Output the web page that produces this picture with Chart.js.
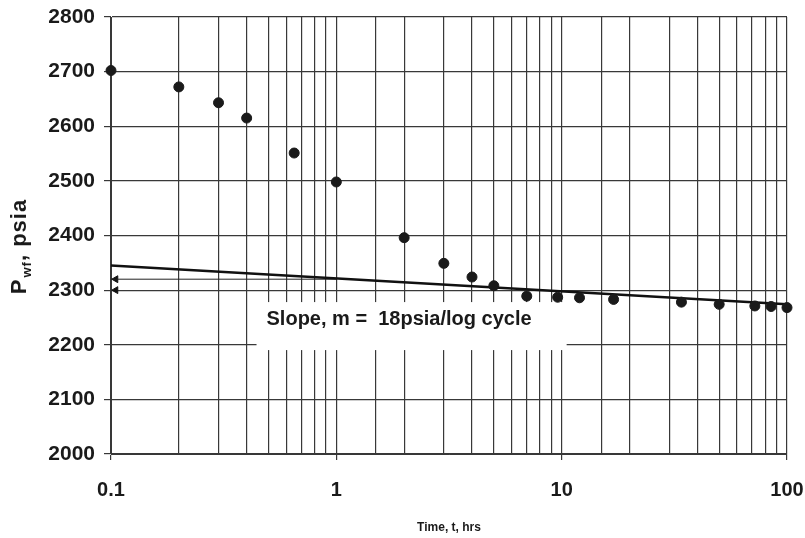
<!DOCTYPE html>
<html>
<head>
<meta charset="utf-8">
<script src="https://cdn.jsdelivr.net/npm/chart.js@4.4.1/dist/chart.umd.min.js"></script>
<style>
  html, body { margin: 0; padding: 0; background: #fff; }
  #wrap { width: 805px; height: 538px; }
</style>
</head>
<body>
<div id="wrap"><canvas id="c" width="805" height="538"></canvas></div>
<script>
	// ******************************************************** DATA
	var timeHrs  = [0.1, 0.2, 0.3, 0.4, 0.65, 1, 2, 3, 4, 5, 7, 9.6, 12, 17, 34, 50, 72, 85, 100];
	var pwfPsia  = [2702, 2672, 2643, 2615, 2551, 2498, 2396, 2349, 2324, 2308, 2289, 2287, 2286, 2283, 2278, 2274, 2271, 2270, 2268];
	var lineTime = [0.1, 100];
	var linePsia = [2345, 2274];
	var p1hrTime = [0.1, 1];
	var p1hrPsia = [2320, 2320];
	var arrowTime = [0.105, 0.105];
	var arrowPsia = [2320, 2300];
	var yTicks   = [2000, 2100, 2200, 2300, 2400, 2500, 2600, 2700, 2800];
	var xTicks   = [0.1, 1, 10, 100];
	var slopeText = "Slope, m =  18psia/log cycle";

	function pts(xs, ys) {
		var out = [];
		for (var i = 0; i < xs.length; i++) out.push({ x: xs[i], y: ys[i] });
		return out;
	}
	function isDecade(v) {
		var l = Math.log10(v);
		return Math.abs(l - Math.round(l)) < 1e-6;
	}

	var FONT = "'Liberation Sans', Arial, sans-serif";
	var GRID = '#383838';

	// ******************************************************** PLUGIN (titles + slope label)
	var extras = {
		id: 'extras',
		beforeDatasetsDraw: function (chart) {
			var ctx = chart.ctx, xs = chart.scales.x, ys = chart.scales.y;
			// slope label on white box
			var lx = xs.getPixelForValue(0.49), ly = ys.getPixelForValue(2247);
			ctx.save();
			ctx.font = 'bold 20px ' + FONT;
			var w = ctx.measureText(slopeText).width;
			ctx.fillStyle = '#fff';
			ctx.fillRect(lx - 10, ly - 17, w + 45, 48);
			ctx.fillStyle = '#1a1a1a';
			ctx.textBaseline = 'middle';
			ctx.fillText(slopeText, lx, ly);
			ctx.restore();
		},
		afterDraw: function (chart) {
			var ctx = chart.ctx, a = chart.chartArea;
			ctx.save();
			ctx.fillStyle = '#1a1a1a';
			// x title
			ctx.font = 'bold 12px ' + FONT;
			ctx.textAlign = 'center';
			ctx.textBaseline = 'middle';
			ctx.fillText('Time, t, hrs', (a.left + a.right) / 2, 528);
			// y title with subscript
			ctx.translate(26, 247);
			ctx.rotate(-Math.PI / 2);
			ctx.textAlign = 'left';
			ctx.textBaseline = 'alphabetic';
			ctx.letterSpacing = '1px';
			var f1 = 'bold 22px ' + FONT, f2 = 'bold 13px ' + FONT;
			ctx.font = f1; var w1 = ctx.measureText('P').width;
			ctx.font = f2; var w2 = ctx.measureText('wf').width;
			ctx.font = f1; var w3 = ctx.measureText(', psia').width;
			var x0 = -(w1 + w2 + w3) / 2;
			ctx.font = f1; ctx.fillText('P', x0, 0);
			ctx.font = f2; ctx.fillText('wf', x0 + w1 + 1, 5);
			ctx.font = f1; ctx.fillText(', psia', x0 + w1 + w2 + 1, 0);
			ctx.restore();
		}
	};

	// ******************************************************** CHART
	var config = {
		type: 'scatter',
		data: {
			datasets: [{
				data: pts(timeHrs, pwfPsia),
				backgroundColor: '#1a1a1a',
				borderColor: '#1a1a1a',
				pointRadius: 5,
				pointHoverRadius: 5,
				clip: false
			}, {
				data: pts(lineTime, linePsia),
				showLine: true,
				borderColor: '#111',
				borderWidth: 2.5,
				pointRadius: 0,
				clip: false
			}, {
				data: pts(p1hrTime, p1hrPsia),
				showLine: true,
				borderColor: '#222',
				borderWidth: 1,
				pointRadius: 0
			}, {
				data: pts(arrowTime, arrowPsia),
				pointStyle: 'triangle',
				rotation: 270,
				pointRadius: 4,
				backgroundColor: '#111',
				borderColor: '#111'
			}]
		},
		options: {
			responsive: false,
			animation: false,
			events: [],
			layout: { padding: { top: 17, right: 18, left: 0, bottom: 0 } },
			plugins: { legend: { display: false }, tooltip: { enabled: false } },
			scales: {
				x: {
					type: 'logarithmic',
					min: 0.1,
					max: 100,
					afterFit: function (s) {
						s.height = 84;
						s.paddingLeft = 0;
						s.paddingRight = 0;
					},
					afterBuildTicks: function (s) {
						s.ticks = s.ticks.filter(function (t) { return t.value >= 0.1 && t.value <= 100; });
					},
					border: { display: true, color: GRID, width: 1 },
					grid: {
						color: GRID,
						lineWidth: 1.2,
						tickLength: 6,
						tickColor: function (c) { return c.tick && isDecade(c.tick.value) ? GRID : 'rgba(0,0,0,0)'; }
					},
					ticks: {
						autoSkip: false,
						maxRotation: 0,
						padding: 18,
						color: '#1a1a1a',
						font: { family: FONT, size: 20, weight: 'bold' },
						callback: function (v) {
							for (var i = 0; i < xTicks.length; i++) if (Math.abs(v - xTicks[i]) < 1e-9) return String(xTicks[i]);
							return '';
						}
					}
				},
				y: {
					min: yTicks[0],
					max: yTicks[yTicks.length - 1],
					afterFit: function (s) {
						s.width = 111;
						s.paddingTop = 0;
						s.paddingBottom = 0;
					},
					border: { display: true, color: GRID, width: 1 },
					grid: { color: GRID, lineWidth: 1.2, tickLength: 7 },
					ticks: {
						stepSize: 100,
						padding: 9,
						color: '#1a1a1a',
						font: { family: FONT, size: 21, weight: 'bold' },
						callback: function (v) { return String(v); }
					}
				}
			}
		},
		plugins: [extras]
	};

	var _ctxc = document.getElementById('c').getContext('2d');
	window.myChart = new Chart(_ctxc, config);
</script>
</body>
</html>
